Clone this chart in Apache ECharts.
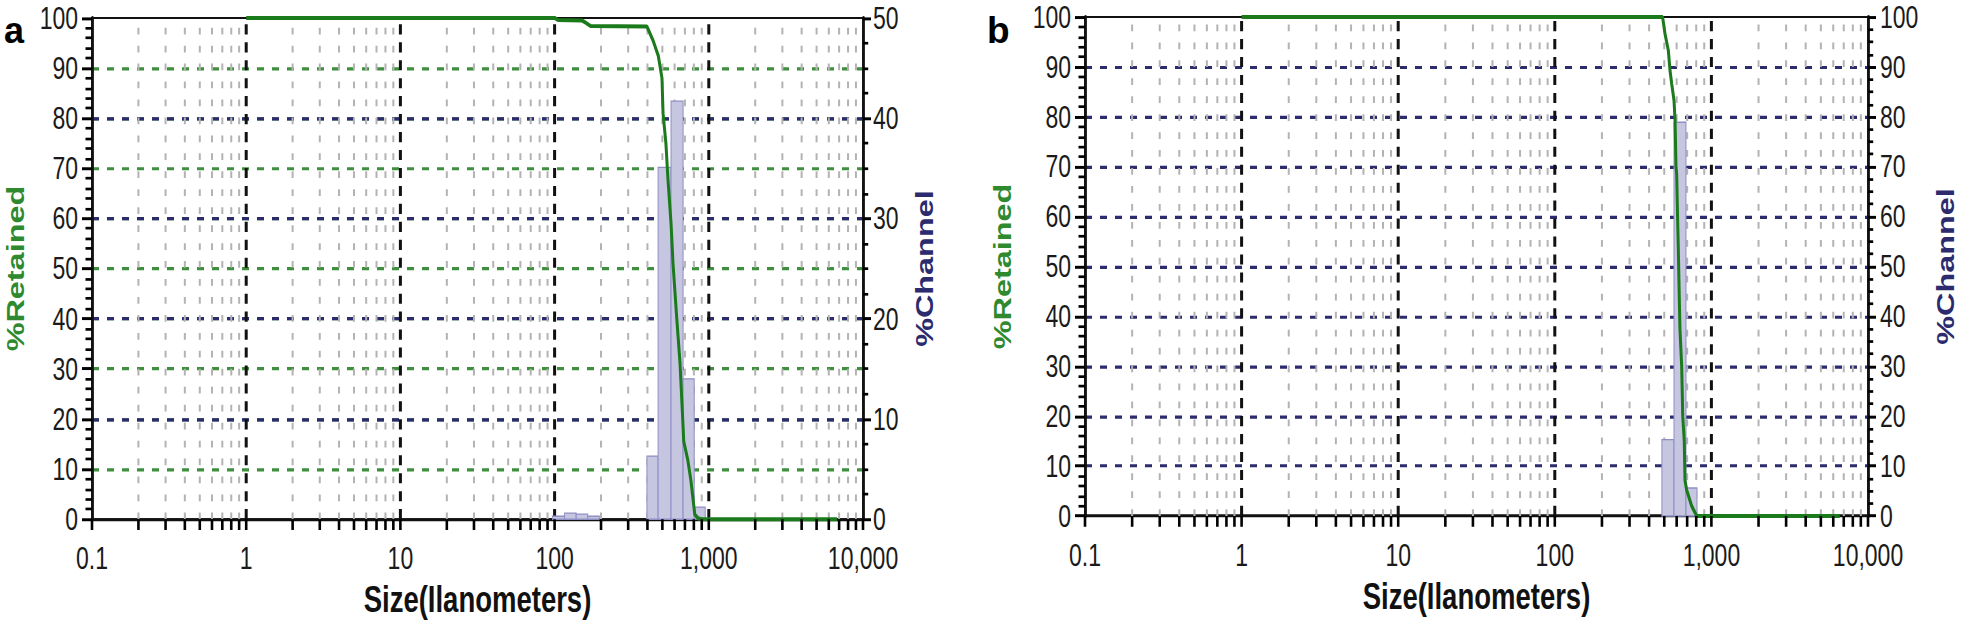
<!DOCTYPE html>
<html><head><meta charset="utf-8">
<script src="https://cdn.jsdelivr.net/npm/echarts@6/dist/echarts.min.js"></script>
<style>
html,body{margin:0;padding:0;background:#fff;overflow:hidden}
#wrap{width:1961px;height:625px;overflow:hidden;position:relative;background:#fff}
#chart{width:1961px;height:463px;transform:scaleY(1.35);transform-origin:0 0}
</style></head>
<body><div id="wrap"><div id="chart"></div></div>
<script>
// ---------- data ----------
const xTickLabels = [0.1, 1, 10, 100, 1000, 10000];
const decadeLines = [1, 10, 100, 1000];
const minorMultipliers = [2, 3, 4, 5, 6, 7, 8, 9];

// panel a : channel histogram (bin low, bin high, %channel)
const aBinLow  = [97, 116, 138, 164, 397, 469, 569, 681, 804];
const aBinHigh = [116, 138, 164, 195, 469, 569, 681, 804, 948];
const aChannel = [0.3, 0.6, 0.5, 0.3, 6.3, 35.1, 41.7, 14.0, 1.2];
// panel a : cumulative % retained
const aSize     = [1, 100, 105, 150, 160, 171, 397, 435, 470, 497, 505, 527, 543, 569, 586, 620, 651, 670, 688, 731, 765, 811, 850, 900, 6800];
const aRetained = [100, 100, 99.6, 99.5, 99.0, 98.4, 98.3, 95.5, 92.5, 88, 81, 75, 68, 59, 51, 40, 31, 23, 15.5, 11.8, 7.8, 1, 0.2, 0, 0];

// panel b
const bBinLow  = [483, 577, 688];
const bBinHigh = [577, 688, 809];
const bChannel = [15.3, 78.9, 5.6];
const bSize     = [1, 488, 505, 531, 544, 558, 577, 586, 594, 600, 606, 615, 624, 630, 646, 656, 671, 678, 695, 748, 805, 6600];
const bRetained = [100, 100, 96.7, 93.3, 89.3, 86.6, 83.3, 79.3, 70, 68.6, 62, 53.3, 43.3, 37.3, 30, 20, 15, 7.2, 5.2, 2, 0, 0];

// ---------- helpers ----------
const S = 1.35;               // vertical stretch of the original figure
const FONT = "'Liberation Sans', Arial, sans-serif";
const minorLines = [];
xTickLabels.slice(0, -1).forEach(d => minorMultipliers.forEach(m => minorLines.push(d * m)));
const allTicks = xTickLabels.concat(minorLines);

const zip2 = (a, b) => a.map((v, i) => [v, b[i]]);
const bars = (lo, hi, v) => lo.map((l, i) => [l, hi[i], v[i]]);
const fmt = v => v >= 1000 ? String(Math.round(v)).replace(/\B(?=(\d{3})+(?!\d))/g, ',') : String(v);

function vLine(style) {
  return function (params, api) {
    const v = api.value(0);
    const p0 = api.coord([v, 0]), p1 = api.coord([v, 100]);
    return { type: 'line', shape: { x1: p0[0], y1: p0[1], x2: p1[0], y2: p1[1] }, style: style };
  };
}
function tickRender(params, api) {
  const p = api.coord([api.value(0), 0]);
  return { type: 'line', shape: { x1: p[0], y1: p[1], x2: p[0], y2: p[1] + 8 }, style: { stroke: '#000', lineWidth: 2.6 } };
}
function barRender(params, api) {
  const p0 = api.coord([api.value(0), api.value(2)]);
  const p1 = api.coord([api.value(1), 0]);
  return { type: 'rect', shape: { x: p0[0], y: p0[1], width: p1[0] - p0[0], height: p1[1] - p0[1] },
           style: { fill: '#c6c6e0', stroke: '#8e8ec4', lineWidth: 1 } };
}

function xAxisCfg(grid, gap, margin) {
  return {
    type: 'log', logBase: 10, min: 0.1, max: 10000, gridIndex: grid,
    axisLine: { lineStyle: { color: '#111', width: 2.2 } },
    axisTick: { show: false }, splitLine: { show: false },
    axisLabel: { margin: margin, fontSize: 23, color: '#1a1a1a', fontFamily: FONT, formatter: fmt },
    name: 'Size(Ilanometers)', nameLocation: 'middle', nameGap: gap,
    nameTextStyle: { fontSize: 27.5, fontWeight: 'bold', color: '#111', fontFamily: FONT }
  };
}
function yAxisCfg(o) {
  return {
    type: 'value', gridIndex: o.grid, position: o.pos, min: 0, max: o.max, interval: 10,
    axisLine: { show: true, lineStyle: { color: '#111', width: 2.8 } },
    axisTick: { show: true, inside: false, length: o.tick, lineStyle: { color: '#000', width: 2.2 } },
    minorTick: { show: true, splitNumber: o.minor, length: o.tick * 0.65, lineStyle: { color: '#000', width: 2 } },
    axisLabel: { margin: o.margin, fontSize: 23, color: '#1a1a1a', fontFamily: FONT },
    splitLine: { show: o.split != null, showMinLine: false, showMaxLine: false,
                 lineStyle: { color: o.split || '#000', width: 2.4, type: [7, 8] } },
    name: o.name, nameLocation: 'middle', nameGap: o.gap,
    nameTextStyle: { color: o.nameColor, fontWeight: 'bold', fontSize: 24, fontFamily: FONT }
  };
}
const GREEN = '#3f8f3f', NAVY = '#2b2b6e';

function panelSeries(xi, yl, yr, binLo, binHi, chan, size, ret) {
  return [
    { type: 'custom', xAxisIndex: xi, yAxisIndex: yl, z: 1, silent: true, renderItem: vLine({ stroke: '#b3b3b3', lineWidth: 2, lineDash: [5, 8.3] }),
      data: minorLines.map(v => [v]) },
    { type: 'custom', xAxisIndex: xi, yAxisIndex: yl, z: 1, silent: true, renderItem: vLine({ stroke: '#111', lineWidth: 3, lineDash: [7.5, 5.8] }),
      data: decadeLines.map(v => [v]) },
    { type: 'custom', xAxisIndex: xi, yAxisIndex: yr, z: 3, silent: true, renderItem: barRender,
      encode: { x: [0, 1], y: 2 }, data: bars(binLo, binHi, chan) },
    { type: 'line', xAxisIndex: xi, yAxisIndex: yl, z: 5, showSymbol: false, clip: false, silent: true,
      lineStyle: { color: '#1b7a1b', width: 3 }, data: zip2(size, ret) },
    { type: 'custom', xAxisIndex: xi, yAxisIndex: yl, z: 6, silent: true, clip: false, renderItem: tickRender,
      data: allTicks.map(v => [v]) }
  ];
}

const chart = echarts.init(document.getElementById('chart'), null, { renderer: 'svg' });
chart.setOption({
  animation: false,
  backgroundColor: '#fff',
  grid: [
    { left: 92, width: 771, top: 13.3, height: 376.3, show: true, borderColor: '#111', borderWidth: 1.6 },
    { left: 1085, width: 783, top: 12.6, height: 369.6, show: true, borderColor: '#111', borderWidth: 1.6 }
  ],
  xAxis: [xAxisCfg(0, 43, 17.5), xAxisCfg(1, 45, 17.5)],
  yAxis: [
    yAxisCfg({ grid: 0, pos: 'left', max: 100, minor: 5, tick: 10, margin: 14, split: GREEN, name: '%Retained', nameColor: '#2f8a2f', gap: 64 }),
    yAxisCfg({ grid: 0, pos: 'right', max: 50, minor: 4, tick: 8, margin: 10, split: NAVY, name: '%Channel', nameColor: NAVY, gap: 50 }),
    yAxisCfg({ grid: 1, pos: 'left', max: 100, minor: 5, tick: 10, margin: 14, split: null, name: '%Retained', nameColor: '#2f8a2f', gap: 70 }),
    yAxisCfg({ grid: 1, pos: 'right', max: 100, minor: 4, tick: 8, margin: 12, split: NAVY, name: '%Channel', nameColor: NAVY, gap: 66 })
  ],
  graphic: [
    { type: 'text', x: 4, y: 36, scaleY: 1 / S, style: { text: 'a', fontSize: 36, fontWeight: 'bold', fill: '#000', fontFamily: FONT, verticalAlign: 'bottom' } },
    { type: 'text', x: 987, y: 36, scaleY: 1 / S, style: { text: 'b', fontSize: 37, fontWeight: 'bold', fill: '#000', fontFamily: FONT, verticalAlign: 'bottom' } }
  ],
  series: panelSeries(0, 0, 1, aBinLow, aBinHigh, aChannel, aSize, aRetained)
    .concat(panelSeries(1, 2, 3, bBinLow, bBinHigh, bChannel, bSize, bRetained))
});
</script>
</body></html>
